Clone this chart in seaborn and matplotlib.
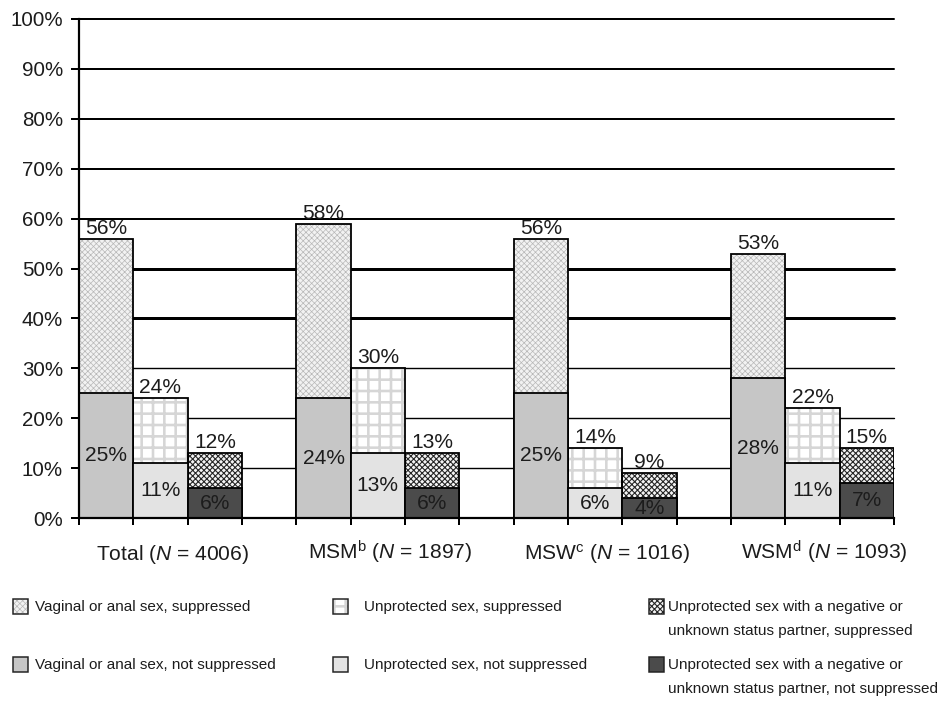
"""
plot.py
Stacked bars: sexual behaviour by viral suppression, per group.
"""

import pandas as pd
import matplotlib
matplotlib.use("Agg")
import matplotlib.pyplot as plt
import matplotlib.transforms as mtrans
from matplotlib.patches import Rectangle
import seaborn as sns


# ─────────────────────────────────────────────
# DATA
# ─────────────────────────────────────────────
groups = ["Total", "MSM", "MSW", "WSM"]
group_labels = [
    r"Total ($\mathit{N}$ = 4006)",
    r"MSM$^{\mathrm{b}}$ ($\mathit{N}$ = 1897)",
    r"MSW$^{\mathrm{c}}$ ($\mathit{N}$ = 1016)",
    r"WSM$^{\mathrm{d}}$ ($\mathit{N}$ = 1093)",
]
kinds = ["any", "unprotected", "negative"]

# bar tops as drawn (suppressed + not suppressed)
total_any = [56, 59, 56, 53]
total_unprot = [24, 30, 14, 22]
total_neg = [13, 13, 9, 14]
# lower segment (not suppressed)
notsupp_any = [25, 24, 25, 28]
notsupp_unprot = [11, 13, 6, 11]
notsupp_neg = [6, 6, 4, 7]
# numbers printed above the bars
label_any = [56, 58, 56, 53]
label_unprot = [24, 30, 14, 22]
label_neg = [12, 13, 9, 15]

legend_top = [
    ["Vaginal or anal sex, suppressed"],
    ["Unprotected sex, suppressed"],
    ["Unprotected sex with a negative or", "unknown status partner, suppressed"],
]
legend_bottom = [
    ["Vaginal or anal sex, not suppressed"],
    ["Unprotected sex, not suppressed"],
    ["Unprotected sex with a negative or", "unknown status partner, not suppressed"],
]

# ─────────────────────────────────────────────
# CONFIG
# ─────────────────────────────────────────────
W, H = 944, 702
DPI = 136
TXT = "#1c1c1c"


def pt(px):
    return px * 72 / DPI


# top (suppressed) patterns: face, hatch, hatch colour, hatch width(px)
TOP_STYLE = [
    ("#f2f2f2", "xxxxxxxx", "#b8b8b8", 0.7),
    ("#ffffff", "++", "#d6d6d6", 2.6),
    ("#f4f4f4", "xxxxxxxx", "#262626", 1.1),
]
BOTTOM_COLORS = ["#c6c6c6", "#e3e3e3", "#4b4b4b"]

sns.set_theme(style="white")
plt.rcParams["font.family"] = ["Liberation Sans", "DejaVu Sans"]
plt.rcParams["mathtext.fontset"] = "custom"
plt.rcParams["mathtext.rm"] = "Liberation Sans"
plt.rcParams["mathtext.it"] = "Liberation Sans:italic"
plt.rcParams["mathtext.bf"] = "Liberation Sans:bold"
plt.rcParams["text.color"] = TXT


def hatch_patch(p, face, hatch, hcolor, hlw):
    p.set_facecolor(face)
    p.set_hatch(hatch)
    p.set_edgecolor(hcolor)
    p.set_linewidth(0)
    if hasattr(p, "set_hatch_linewidth"):
        p.set_hatch_linewidth(pt(hlw))


rows = []
for i, g in enumerate(groups):
    for k, tot, bot, lab in zip(
        kinds,
        [total_any[i], total_unprot[i], total_neg[i]],
        [notsupp_any[i], notsupp_unprot[i], notsupp_neg[i]],
        [label_any[i], label_unprot[i], label_neg[i]],
    ):
        rows.append({"group": g, "kind": k, "total": tot, "bottom": bot, "label": lab})
df = pd.DataFrame(rows)

fig = plt.figure(figsize=(W / DPI, H / DPI), dpi=DPI)
ax = fig.add_axes([79 / W, (H - 518) / H, 815 / W, 499 / H])

common = dict(data=df, x="group", hue="kind", order=groups, hue_order=kinds,
              width=0.75, gap=0, saturation=1, errorbar=None, legend=False, ax=ax)

# full bars with the suppressed pattern
sns.barplot(y="total", palette=["white"] * 3, **common)
top_containers = list(ax.containers)
for ci, cont in enumerate(top_containers):
    for p in cont:
        hatch_patch(p, *TOP_STYLE[ci])
        ax.add_patch(Rectangle(p.get_xy(), p.get_width(), p.get_height(),
                               fill=False, ec="black", lw=pt(1.8)))

# not suppressed part on top of them
sns.barplot(y="bottom", palette=BOTTOM_COLORS, edgecolor="black",
            linewidth=pt(1.8), **common)
bottom_containers = list(ax.containers)[len(top_containers):]

# value labels
for ci, (tc, bc) in enumerate(zip(top_containers, bottom_containers)):
    sub = df[df["kind"] == kinds[ci]].reset_index(drop=True)
    for j, (pt_, pb) in enumerate(zip(tc, bc)):
        cx = pt_.get_x() + pt_.get_width() / 2
        ax.annotate(f"{sub.loc[j, 'label']}%", (cx, pt_.get_height()),
                    xytext=(0, pt(5)), textcoords="offset points",
                    ha="center", va="baseline", fontsize=pt(21), color=TXT)
        ax.text(cx, pb.get_height() / 2, f"{sub.loc[j, 'bottom']}%",
                ha="center", va="center", fontsize=pt(21), color=TXT)

# axes
ax.set_xlim(-0.375, 3.375)
ax.set_ylim(0, 100)
ax.set_xticks([-0.375 + k * 0.25 for k in range(16)])
ax.set_xticklabels([])
ax.set_yticks(range(0, 101, 10))
ax.set_yticklabels([f"{v}%" for v in range(0, 101, 10)], fontsize=pt(20.5), color=TXT)
ax.set_xlabel("")
ax.set_ylabel("")
ax.tick_params(axis="x", bottom=True, length=pt(7), width=pt(2), color="black")
ax.tick_params(axis="y", left=True, length=pt(8), width=pt(2), color="black", pad=pt(8))

ax.set_axisbelow(True)
ax.yaxis.grid(True, color="black")
ax.xaxis.grid(False)
grid_px = {0: 0, 10: 1.4, 20: 1.4, 30: 1.4, 40: 3.0, 50: 3.0}
for v, line in zip(range(0, 101, 10), ax.get_ygridlines()):
    line.set_linewidth(pt(grid_px.get(v, 2.0)))
    line.set_clip_on(False)

sns.despine(ax=ax)
for s in ["left", "bottom"]:
    ax.spines[s].set_color("black")
    ax.spines[s].set_linewidth(pt(2.2))
    ax.spines[s].set_zorder(5)

trans = mtrans.blended_transform_factory(ax.transData, ax.transAxes)
for i, lab in enumerate(group_labels):
    ax.text(i + 0.055, -(560 - 518) / 499, lab, transform=trans,
            ha="center", va="baseline", fontsize=pt(21), color=TXT)

# ─────────────────────────────────────────────
# LEGEND (drawn by hand to keep the 3 x 2 grid)
# ─────────────────────────────────────────────
LEG_SIZE = pt(15.2)
sw_x = [13, 333, 649]
tx_x = [35, 364, 668]
row_y = [(599, 607), (657, 665)]  # swatch top, first text line centre


def swatch(x, ytop, **kw):
    r = Rectangle((x / W, 1 - (ytop + 15) / H), 15 / W, 15 / H,
                  transform=fig.transFigure, **kw)
    fig.add_artist(r)
    return r


for c in range(3):
    # suppressed
    r = swatch(sw_x[c], row_y[0][0])
    hatch_patch(r, *TOP_STYLE[c])
    swatch(sw_x[c], row_y[0][0], fill=False, ec="#222222", lw=pt(1.5))
    # not suppressed
    swatch(sw_x[c], row_y[1][0], fc=BOTTOM_COLORS[c], ec="#222222", lw=pt(1.5))
    for (sy, ty), lines in zip(row_y, [legend_top[c], legend_bottom[c]]):
        for li, line in enumerate(lines):
            fig.text(tx_x[c] / W, 1 - (ty + li * 24) / H, line, ha="left", va="center",
                     fontsize=LEG_SIZE, color=TXT)

fig.savefig("out.png", dpi=DPI)
plt.close(fig)
